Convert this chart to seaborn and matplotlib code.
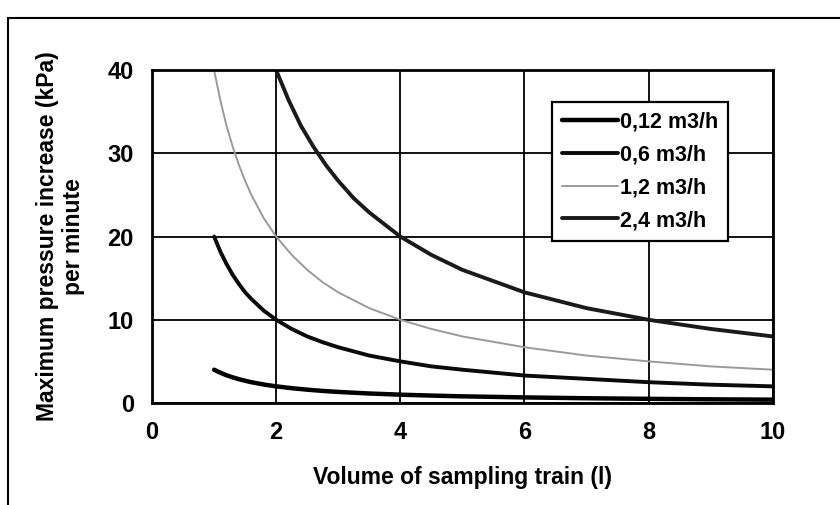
import numpy as np
import pandas as pd
import matplotlib
matplotlib.use("Agg")
import matplotlib.pyplot as plt
import seaborn as sns
from matplotlib.patches import Rectangle

# =========================================
# DATA
# =========================================
volume = [1, 1.1, 1.2, 1.3, 1.4, 1.5, 1.6, 1.8, 2, 2.25, 2.5, 2.75, 3, 3.5, 4, 4.5, 5, 6, 7, 8, 9, 10]
flow_012 = [4, 3.64, 3.33, 3.08, 2.86, 2.67, 2.5, 2.22, 2, 1.78, 1.6, 1.45, 1.33, 1.14, 1,
            0.89, 0.8, 0.67, 0.57, 0.5, 0.44, 0.4]
flow_06 = [20, 18.2, 16.7, 15.4, 14.3, 13.3, 12.5, 11.1, 10, 8.9, 8, 7.3, 6.7, 5.7, 5,
           4.4, 4, 3.3, 2.9, 2.5, 2.2, 2]
flow_12 = [40, 36.4, 33.3, 30.8, 28.6, 26.7, 25, 22.2, 20, 17.8, 16, 14.5, 13.3, 11.4, 10,
           8.9, 8, 6.7, 5.7, 5, 4.4, 4]
volume_24 = [2, 2.2, 2.4, 2.6, 2.8, 3, 3.25, 3.5, 4, 4.5, 5, 6, 7, 8, 9, 10]
flow_24 = [40, 36.4, 33.3, 30.8, 28.6, 26.7, 24.6, 22.9, 20, 17.8, 16, 13.3, 11.4, 10, 8.9, 8]

labels = ["0,12 m3/h", "0,6 m3/h", "1,2 m3/h", "2,4 m3/h"]
x_ticks = [0, 2, 4, 6, 8, 10]
y_ticks = [0, 10, 20, 30, 40]

df = pd.concat([
    pd.DataFrame({"V": volume, "P": flow_012, "flow": labels[0]}),
    pd.DataFrame({"V": volume, "P": flow_06, "flow": labels[1]}),
    pd.DataFrame({"V": volume, "P": flow_12, "flow": labels[2]}),
    pd.DataFrame({"V": volume_24, "P": flow_24, "flow": labels[3]}),
])

# =========================================
# STYLE
# =========================================
sns.set_style("white")
plt.rcParams['font.family'] = ['Liberation Sans', 'DejaVu Sans']
plt.rcParams['font.weight'] = 'bold'
plt.rcParams['text.color'] = 'black'
plt.rcParams['axes.labelcolor'] = 'black'

colors = {labels[0]: "#000000", labels[1]: "#0a0a0a", labels[2]: "#9a9a9a", labels[3]: "#1a1a1a"}
widths = {labels[0]: 3.2, labels[1]: 2.8, labels[2]: 1.4, labels[3]: 2.8}

fig = plt.figure(figsize=(8.4, 5.05), dpi=100)
ax = fig.add_axes([0.181, 0.202, 0.739, 0.659])

for lab in labels:
    sub = df[df["flow"] == lab]
    sns.lineplot(data=sub, x="V", y="P", ax=ax, color=colors[lab],
                 linewidth=widths[lab], label=lab, sort=False)

ax.set_xlim(0, 10)
ax.set_ylim(0, 40)
ax.set_xticks(x_ticks)
ax.set_yticks(y_ticks)
ax.grid(True, color="black", linewidth=1.3)
for s in ax.spines.values():
    s.set_color("black")
    s.set_linewidth(2)
ax.tick_params(axis="both", direction="out", length=7, width=1.5,
               labelsize=17, colors="black", pad=6)
for t in ax.get_xticklabels() + ax.get_yticklabels():
    t.set_fontweight("bold")

ax.set_xlabel("Volume of sampling train (l)", fontsize=16.5, fontweight="bold", labelpad=16)
ax.set_ylabel("Maximum pressure increase (kPa)\nper minute", fontsize=16.5,
              fontweight="bold", labelpad=16)

leg = ax.legend(loc="upper right", bbox_to_anchor=(0.928, 0.905), borderaxespad=0,
                fontsize=15.5, frameon=True, fancybox=False, edgecolor="black", framealpha=1,
                handlelength=2.6, handletextpad=0.1, borderpad=0.45, labelspacing=0.55)
leg.get_frame().set_linewidth(1.6)
for t in leg.get_texts():
    t.set_fontweight("bold")

# outer frame of the scanned figure
fig.patches.append(Rectangle((0.009, -0.01), 1.0, 0.975, transform=fig.transFigure,
                             fill=False, edgecolor="black", linewidth=1.5))

fig.savefig("out.png", dpi=100)
